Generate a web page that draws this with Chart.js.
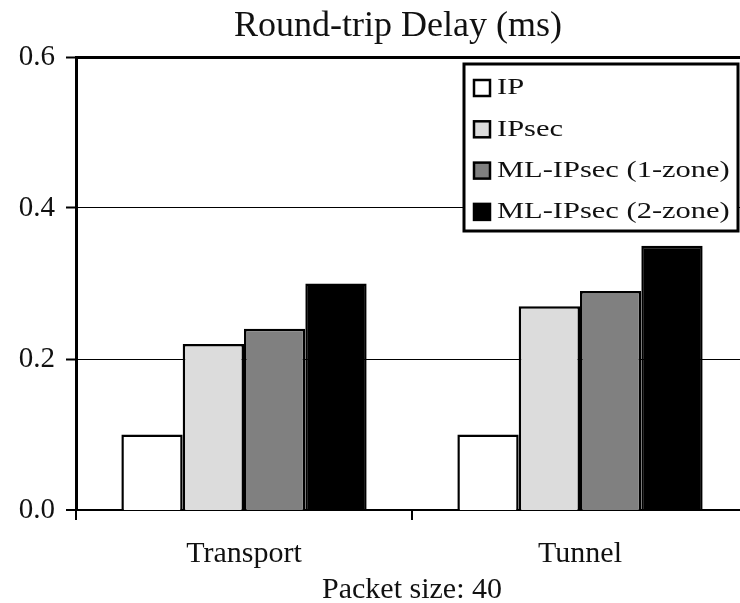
<!DOCTYPE html>
<html>
<head>
<meta charset="utf-8">
<title>Round-trip Delay (ms)</title>
<script src="https://cdn.jsdelivr.net/npm/chart.js@4.4.0/dist/chart.umd.min.js"></script>
<style>
  html, body { margin: 0; padding: 0; background: #fff; }
  #wrap { width: 740px; height: 603px; overflow: hidden; }
</style>
</head>
<body>
<div id="wrap"><canvas id="delayChart" width="748" height="603"></canvas></div>
<script>
// data
const categories = ['Transport', 'Tunnel'];
const seriesNames = ['IP', 'IPsec', 'ML-IPsec (1-zone)', 'ML-IPsec (2-zone)'];
const ipDelay = [0.10, 0.10];
const ipsecDelay = [0.22, 0.27];
const ml1Delay = [0.24, 0.29];
const ml2Delay = [0.30, 0.35];
const yTicks = [0.0, 0.2, 0.4, 0.6];
const chartTitle = 'Round-trip Delay (ms)';
const xTitle = 'Packet size: 40';

const fills = ['#ffffff', '#dcdcdc', '#808080', '#000000'];
const serif = '"Liberation Serif", "Times New Roman", serif';
const ink = '#111';

// title is centred a little left of the plot area in the original
const titlePlugin = {
    id: 'titlePlugin',
    afterDraw(chart) {
        const ctx = chart.ctx;
        ctx.save();
        ctx.font = '36px ' + serif;
        ctx.fillStyle = ink;
        ctx.textAlign = 'center';
        ctx.textBaseline = 'alphabetic';
        ctx.fillText(chartTitle, 398, 36);
        ctx.restore();
    }
};

// boxed legend inside the top right corner of the plot
const boxLegend = {
    id: 'boxLegend',
    afterDraw(chart) {
        const ctx = chart.ctx;
        const area = chart.chartArea;
        const left = area.right - 284;
        const top = area.top + 7;
        ctx.save();
        ctx.fillStyle = '#fff';
        ctx.strokeStyle = '#000';
        ctx.lineWidth = 3;
        ctx.fillRect(left, top, 274, 167);
        ctx.strokeRect(left, top, 274, 167);
        chart.data.datasets.forEach((ds, i) => {
            const cy = top + 24 + i * 41.3;
            ctx.fillStyle = ds.backgroundColor;
            ctx.fillRect(left + 10, cy - 8, 16, 16);
            ctx.lineWidth = 2.5;
            ctx.strokeStyle = '#000';
            ctx.strokeRect(left + 10, cy - 8, 16, 16);
            ctx.save();
            ctx.translate(left + 33, cy);
            ctx.scale(1.27, 1);
            ctx.font = '24px ' + serif;
            ctx.fillStyle = ink;
            ctx.textBaseline = 'middle';
            ctx.fillText(ds.label, 0, 0);
            ctx.restore();
        });
        ctx.restore();
    }
};

const seriesValues = [ipDelay, ipsecDelay, ml1Delay, ml2Delay];

const ctx = document.getElementById('delayChart').getContext('2d');
new Chart(ctx, {
    type: 'bar',
    data: {
        labels: categories,
        datasets: seriesNames.map((name, i) => ({
            label: name,
            data: seriesValues[i],
            backgroundColor: fills[i],
            borderColor: '#000',
            borderWidth: 2.5,
            barPercentage: 1.0,
            categoryPercentage: 0.73
        }))
    },
    options: {
        responsive: false,
        animation: false,
        layout: { padding: { top: 57, left: 0, right: 0, bottom: 0 } },
        plugins: {
            legend: { display: false },
            title: { display: false },
            tooltip: { enabled: false }
        },
        scales: {
            x: {
                afterFit(scale) {
                    scale.height = 93;
                },
                grid: {
                    display: true,
                    drawOnChartArea: false,
                    drawTicks: true,
                    tickLength: 10,
                    color: '#000',
                    lineWidth: 2,
                    offset: true
                },
                border: { display: true, color: '#000', width: 2 },
                ticks: {
                    color: ink,
                    padding: 16,
                    font: { family: serif, size: 30, lineHeight: 1.2 }
                },
                title: {
                    display: true,
                    text: xTitle,
                    color: ink,
                    padding: { top: 2, bottom: -2 },
                    font: { family: serif, size: 30, lineHeight: 1.0 }
                }
            },
            y: {
                min: 0,
                max: 0.6,
                afterBuildTicks(scale) {
                    scale.ticks = yTicks.map(v => ({ value: v }));
                },
                afterFit(scale) {
                    scale.width = 76;
                },
                grid: {
                    color: '#000',
                    lineWidth: c => (c.index === yTicks.length - 1 ? 3 : (c.index === 0 ? 0 : 1)),
                    tickLength: 10,
                    tickWidth: 2,
                    tickColor: '#000'
                },
                border: { display: true, color: '#000', width: 3 },
                ticks: {
                    color: ink,
                    padding: 11,
                    font: { family: serif, size: 29 },
                    callback: v => Number(v).toFixed(1)
                }
            }
        }
    },
    plugins: [titlePlugin, boxLegend]
});
</script>
</body>
</html>
